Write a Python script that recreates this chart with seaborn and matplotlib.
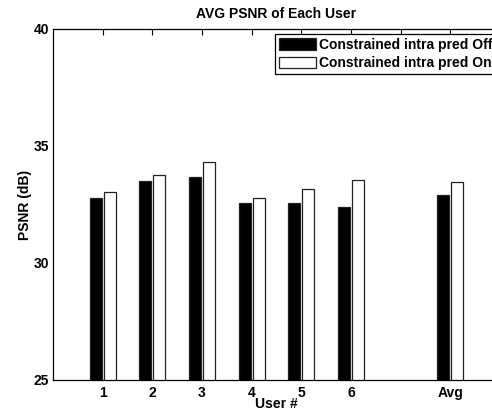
import pandas as pd
import seaborn as sns
import numpy as np
import matplotlib.pyplot as plt
from matplotlib.ticker import MultipleLocator

# average PSNR per user
users = ['1', '2', '3', '4', '5', '6', 'Avg']
psnr_off = [32.77, 33.52, 33.69, 32.55, 32.55, 32.39, 32.91]
psnr_on = [33.05, 33.75, 34.33, 32.79, 33.18, 33.55, 33.44]
series = ['Constrained intra pred Off', 'Constrained intra pred On']

# empty slot between user 6 and the average
order = ['1', '2', '3', '4', '5', '6', '', 'Avg']

df = pd.DataFrame({
    'User': users * 2,
    'PSNR': psnr_off + psnr_on,
    'Mode': [series[0]] * len(users) + [series[1]] * len(users),
})

sns.set_style('white')
plt.rcParams['font.family'] = ['Liberation Sans', 'DejaVu Sans']
plt.rcParams['font.weight'] = 'bold'
plt.rcParams['font.size'] = 10
plt.rcParams['text.color'] = 'black'
plt.rcParams['axes.labelcolor'] = 'black'

fig = plt.figure(figsize=(4.92, 4.12), dpi=100)
ax = fig.add_axes([0.1077, 0.0777, 0.9085, 0.852])

sns.barplot(data=df, x='User', y='PSNR', hue='Mode', order=order,
            hue_order=series, palette=['black', 'white'],
            width=0.56, gap=0.14, edgecolor='#222222', linewidth=0.9,
            ax=ax)

ax.set_xlim(-1, 8)
ax.set_ylim(25, 40)
ax.yaxis.set_major_locator(MultipleLocator(5))
ax.yaxis.set_minor_locator(MultipleLocator(1))
ax.tick_params(axis='both', which='both', direction='in', top=True, right=True,
               labelsize=10, pad=3, colors='black')
ax.tick_params(axis='x', pad=4)
ax.tick_params(which='major', length=4, width=0.8)
ax.tick_params(which='minor', length=2, width=0.6)
for lab in ax.get_xticklabels() + ax.get_yticklabels():
    lab.set_fontweight('bold')
for sp in ax.spines.values():
    sp.set_visible(True)
    sp.set_color('black')
    sp.set_linewidth(0.9)
ax.spines['right'].set_visible(False)

ax.set_xlabel('User #', fontweight='bold', fontsize=10, labelpad=-2)
ax.set_ylabel('PSNR (dB)', fontweight='bold', fontsize=10, labelpad=1)
ax.set_title('AVG PSNR of Each User', fontweight='bold', fontsize=10, pad=8)

handles, labels = ax.get_legend_handles_labels()
leg = ax.legend(handles, labels, loc='upper left', bbox_to_anchor=(0.4966, 0.9858),
                borderaxespad=0, fontsize=10, handlelength=2.66, handleheight=0.86,
                handletextpad=0.25, labelspacing=0.3, borderpad=0.28,
                fancybox=False, framealpha=1, edgecolor='black')
leg.get_frame().set_linewidth(0.9)
for t in leg.get_texts():
    t.set_fontweight('bold')
    t.set_color('black')

plt.savefig('out.png', dpi=100)
